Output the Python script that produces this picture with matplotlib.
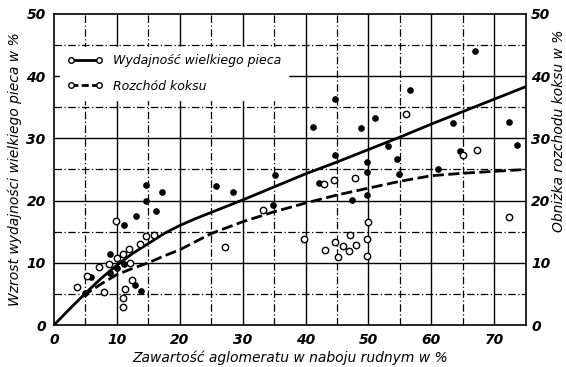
import numpy as np
import matplotlib.pyplot as plt
from matplotlib.lines import Line2D

# --- data ---
# filled points (blast furnace output increase)
full_x = [14.6, 17.1, 14.7, 16.2, 13.1, 11.1, 8.9, 10.0, 11.2, 8.9, 12.9, 13.9, 4.9, 5.9,
          25.7, 28.4, 35.1, 34.8, 42.2, 44.7, 41.2, 48.9, 51.0, 56.6, 53.1, 54.5, 44.7,
          49.8, 49.8, 54.8, 49.8, 47.4, 67.0, 63.4, 72.3, 64.5, 61.1, 73.6]
full_y = [22.5, 21.4, 19.9, 18.4, 17.6, 16.0, 11.4, 9.1, 9.8, 8.3, 6.5, 5.5, 5.1, 7.7,
          22.4, 21.4, 24.1, 19.3, 22.9, 36.4, 31.8, 31.7, 33.2, 37.7, 28.7, 26.7, 27.3,
          26.2, 24.6, 24.3, 20.9, 20.1, 44.1, 32.5, 32.6, 28.0, 25.1, 28.9]

# open points (coke consumption decrease)
open_x = [9.9, 14.6, 15.9, 13.6, 12.0, 11.0, 10.0, 8.7, 7.1, 12.1, 5.2, 3.6, 7.9, 11.3,
          12.4, 11.0, 11.0, 33.2, 27.2, 43.0, 39.7, 43.1, 56.0, 47.9, 44.6, 50.0, 47.0,
          49.8, 44.7, 46.0, 48.1, 46.9, 45.2, 49.8, 65.0, 67.2, 72.3]
open_y = [16.7, 14.3, 14.5, 13.1, 12.2, 11.4, 10.8, 9.8, 9.4, 10.0, 7.9, 6.1, 5.3, 5.8,
          7.2, 4.4, 2.9, 18.5, 12.6, 22.7, 13.8, 12.0, 33.9, 23.7, 23.3, 16.5, 14.4,
          13.9, 13.3, 12.7, 12.8, 11.9, 11.0, 11.1, 27.3, 28.1, 17.4]

# curves
wyd_x = [0, 2.5, 5, 7.5, 10, 12.5, 15, 17.5, 20, 22.5, 25, 30, 35, 40, 45, 50, 55, 60, 65, 70, 75]
wyd_y = [0, 2.6, 5.1, 7.5, 9.6, 11.5, 13.1, 14.7, 16.0, 17.1, 18.1, 20.1, 22.2, 24.3, 26.2,
         28.2, 30.2, 32.3, 34.3, 36.3, 38.3]
koks_x = [4.5, 7.5, 10, 12.5, 15, 17.5, 20, 25, 30, 35, 40, 45, 50, 55, 60, 65, 70, 75]
koks_y = [4.6, 6.6, 8.1, 9.1, 10.0, 11.1, 12.1, 14.7, 16.6, 18.2, 19.6, 20.9, 22.0, 23.1,
          24.0, 24.4, 24.7, 25.0]

xticks = [0, 10, 20, 30, 40, 50, 60, 70]
yticks = [0, 10, 20, 30, 40, 50]

plt.rcParams['font.family'] = ['Liberation Sans Narrow', 'DejaVu Sans']

fig = plt.figure(figsize=(5.66, 3.67), dpi=100)
ax = fig.add_axes([0.0954, 0.1144, 0.8332, 0.8475])
ax.set_xlim(0, 75)
ax.set_ylim(0, 50)

# grid: solid every 10, dash-dot every 5
for v in range(5, 75, 5):
    if v % 10 == 0:
        ax.axvline(v, color='black', lw=1.0, zorder=1)
    else:
        ax.axvline(v, color='black', lw=0.9, ls=(0, (6, 2, 1, 2)), zorder=1)
for v in range(5, 50, 5):
    if v % 10 == 0:
        ax.axhline(v, color='black', lw=1.0, zorder=1)
    else:
        ax.axhline(v, color='black', lw=0.9, ls=(0, (6, 2, 1, 2)), zorder=1)

ax.plot(wyd_x, wyd_y, color='black', lw=2.0, zorder=3)
ax.plot(koks_x, koks_y, color='black', lw=2.0, ls=(0, (4, 1.6)), zorder=3)

ax.plot(full_x, full_y, 'o', color='black', ms=3.8, zorder=4)
ax.plot(open_x, open_y, 'o', mfc='white', mec='black', mew=1.0, ms=4.6, zorder=4)

for s in ax.spines.values():
    s.set_linewidth(1.2)

ax.set_xticks(xticks)
ax.set_yticks(yticks)
ax.tick_params(length=0, labelsize=10, pad=6)
for t in ax.get_xticklabels() + ax.get_yticklabels():
    t.set_style('italic')
    t.set_weight('bold')

ax2 = ax.twinx()
ax2.set_ylim(0, 50)
ax2.set_yticks(yticks)
ax2.tick_params(length=0, labelsize=10, pad=4)
for t in ax2.get_yticklabels():
    t.set_style('italic')
    t.set_weight('bold')
for s in ax2.spines.values():
    s.set_visible(False)

fig.text(559 / 566, (367 - 131) / 367, 'Obniżka rozchodu koksu w %', rotation=90,
         ha='center', va='center', fontsize=10, style='italic')

ax.set_xlabel('Zawartość aglomeratu w naboju rudnym w %', fontsize=10, style='italic', labelpad=2)
ax.set_ylabel('Wzrost wydajności wielkiego pieca w %', fontsize=10, style='italic')
ax.yaxis.set_label_coords(-0.068, 0.5)

handles = [Line2D([0], [0], color='black', lw=2.0, marker='o', mfc='white', mec='black', ms=4),
           Line2D([0], [0], color='black', lw=2.0, ls=(0, (2.5, 1.2)), marker='o', mfc='white',
                  mec='black', ms=4)]
leg = ax.legend(handles, ['Wydajność wielkiego pieca', 'Rozchód koksu'], loc='upper left',
                bbox_to_anchor=(0.0, 0.915), numpoints=2, frameon=True, fancybox=False,
                edgecolor='white', framealpha=1, fontsize=9, handlelength=2.8,
                labelspacing=1.0, borderpad=0.6)
for t in leg.get_texts():
    t.set_style('italic')
leg.set_zorder(5)

fig.savefig('out.png', dpi=100)
